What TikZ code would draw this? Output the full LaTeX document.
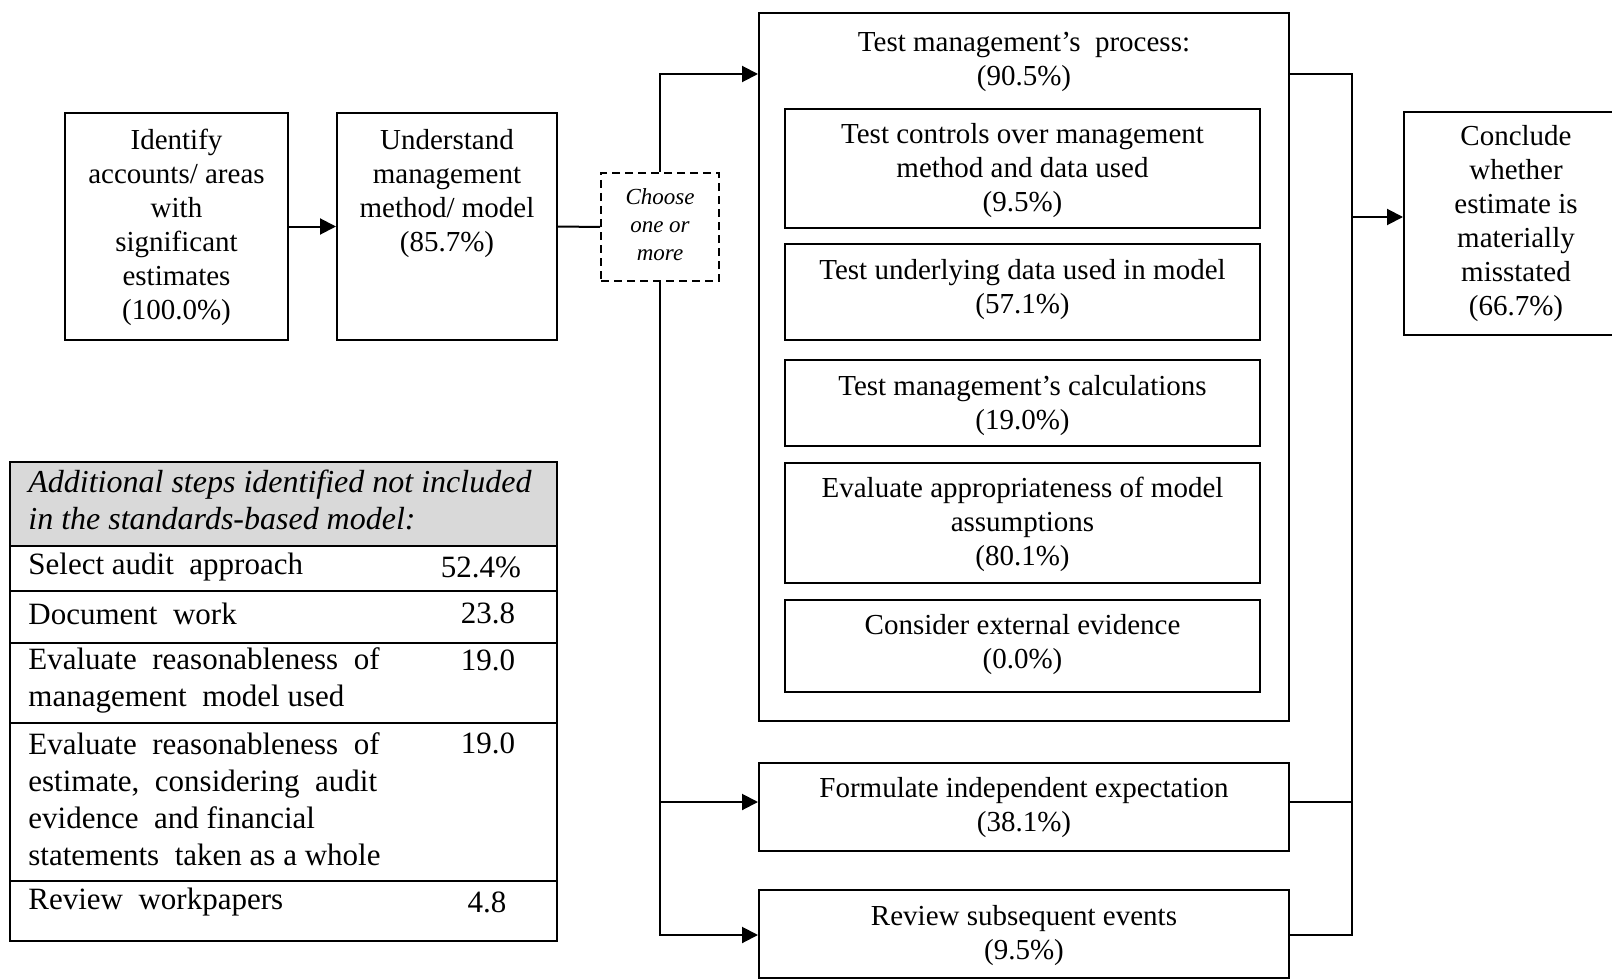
\documentclass[tikz,border=0pt]{standalone}
\usepackage{fontspec}
\setmainfont{Liberation Serif}
\usetikzlibrary{arrows.meta}
\begin{document}
\begin{tikzpicture}[x=0.5pt,y=-0.5pt,
  box/.style n args={2}{draw, line width=1pt, inner sep=0pt, minimum width=#1*0.5pt, minimum height=#2*0.5pt},
  txt/.style={inner sep=0pt, align=center, yshift=-1pt, font=\fontsize{14.5}{17}\selectfont},
  chtxt/.style={inner sep=0pt, align=center, font=\fontsize{11.5}{14}\selectfont\itshape},
  ttxt/.style={inner sep=0pt, align=left, anchor=west, yshift=-1pt, font=\fontsize{15.5}{18.5}\selectfont},
  tnum/.style={inner sep=0pt, yshift=-1pt, font=\fontsize{15.5}{18.5}\selectfont},
  ln/.style={line width=1pt},
  arr/.style={line width=1pt, -{Triangle[length=8pt,width=8pt]}}]
\useasboundingbox (0,0) rectangle (1612,979);

% left flow
\node[box={223}{227}] (ident) at (176.5,226.5) {};
\node[txt] (identT) at (176.5,225) {Identify\\accounts/ areas\\with\\significant\\estimates\\(100.0\%)};
\node[box={220}{227}] (under) at (447,226.5) {};
\node[txt] (underT) at (447,192) {Understand\\management\\method/ model\\(85.7\%)};
\node[box={118}{108}, dash pattern=on 4pt off 2.5pt] (choose) at (660,227) {};
\node[chtxt] (chooseT) at (660,225) {Choose\\one or\\more};

% process box
\node[box={530}{708}] (proc) at (1024,367) {};
\node[txt] (procT) at (1024,59.5) {Test management’s~ process:\\(90.5\%)};
\node[box={475}{119}] (b1) at (1022.5,168.5) {};
\node[txt] (b1T) at (1022.5,169) {Test controls over management\\method and data used\\(9.5\%)};
\node[box={475}{96}] (b2) at (1022.5,292) {};
\node[txt] (b2T) at (1022.5,288) {Test underlying data used in model\\(57.1\%)};
\node[box={475}{86}] (b3) at (1022.5,403) {};
\node[txt] (b3T) at (1022.5,403.5) {Test management’s calculations\\(19.0\%)};
\node[box={475}{120}] (b4) at (1022.5,523) {};
\node[txt] (b4T) at (1022.5,522) {Evaluate appropriateness of model\\assumptions\\(80.1\%)};
\node[box={475}{92}] (b5) at (1022.5,646) {};
\node[txt] (b5T) at (1022.5,643) {Consider external evidence\\(0.0\%)};

\node[box={530}{88}] (form) at (1024,807) {};
\node[txt] (formT) at (1024,806) {Formulate independent expectation\\(38.1\%)};
\node[box={530}{88}] (rev) at (1024,934) {};
\node[txt] (revT) at (1024,933.5) {Review subsequent events\\(9.5\%)};

\node[box={224}{223}] (concl) at (1516,223.5) {};
\node[txt] (conclT) at (1516,221.5) {Conclude\\whether\\estimate is\\materially\\misstated\\(66.7\%)};

% connectors
\draw[arr] (ident.east) -- (under.west);
\draw[ln] (under.east) -- (choose.west);
\coordinate (topjoin) at (660,74);
\coordinate (fj) at (660,802);
\coordinate (botjoin) at (660,935);
\draw[arr] (choose.north) -- (topjoin) -- (proc.west |- topjoin);
\draw[arr] (choose.south) -- (botjoin) -- (rev.west |- botjoin);
\draw[arr] (fj) -- (form.west |- fj);
\coordinate (rtop) at (1352,74);
\coordinate (rmid) at (1352,802);
\coordinate (rbot) at (1352,935);
\coordinate (rarr) at (1352,217);
\draw[ln] (proc.east |- rtop) -- (rtop) -- (rbot) -- (rev.east |- rbot);
\draw[ln] (form.east |- rmid) -- (rmid);
\draw[arr] (rarr) -- (concl.west |- rarr);

% table
\node[box={547}{84}, fill={rgb,255:red,217;green,217;blue,217}] (hdr) at (283.5,504) {};
\node[box={547}{45}] (r1) at (283.5,568.5) {};
\node[box={547}{52}] (r2) at (283.5,617) {};
\node[box={547}{80}] (r3) at (283.5,683) {};
\node[box={547}{158}] (r4) at (283.5,802) {};
\node[box={547}{60}] (r5) at (283.5,911) {};
\node[ttxt, font=\fontsize{16}{18.5}\selectfont\itshape] (hdrT) at (28,497.5) {Additional steps identified not included\\in the standards-based model:};
\node[ttxt] (r1T) at (28,565) {Select audit\ \ approach};
\node[ttxt] (r2T) at (28,611.7) {Document\ \ work};
\node[ttxt] (r3T) at (28,678) {Evaluate\ \ reasonableness\ \ of\\management\ \ model used};
\node[ttxt] (r4T) at (28,797) {Evaluate\ \ reasonableness\ \ of\\estimate,\ \ considering\ \ audit\\evidence\ \ and financial\\statements\ \ taken as a whole};
\node[ttxt] (r5T) at (28,900.5) {Review\ \ workpapers};
\node[tnum] (r1N) at (481,565) {52.4\%};
\node[tnum] (r2N) at (488,611.7) {23.8};
\node[tnum] (r3N) at (488,658) {19.0};
\node[tnum] (r4N) at (488,741) {19.0};
\node[tnum] (r5N) at (487,900.5) {4.8};
\end{tikzpicture}
\end{document}
